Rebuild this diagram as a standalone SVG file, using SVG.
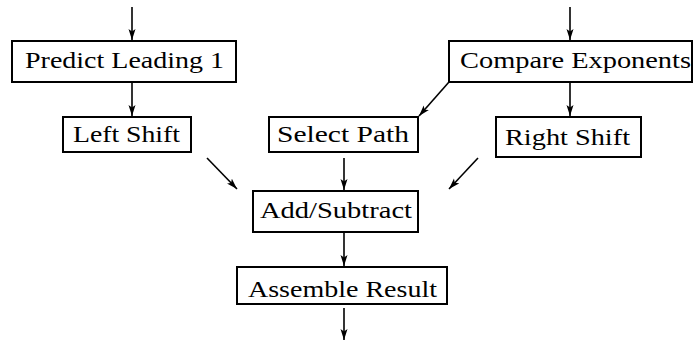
<svg xmlns="http://www.w3.org/2000/svg" width="693" height="340" viewBox="0 0 693 340">
<style>
.box{fill:#fff;stroke:#000;stroke-width:2}
.lbl{font-family:"Liberation Serif","Times New Roman",serif;font-size:24px;fill:#000}
.edge{stroke:#000;stroke-width:1.6;fill:none;marker-end:url(#ah)}
</style>
<defs>
<marker id="ah" markerUnits="userSpaceOnUse" markerWidth="12" markerHeight="8" refX="11" refY="4" orient="auto">
<path d="M0,0.5 L11,4 L0,7.5 L2.5,4 Z" fill="#000"/>
</marker>
</defs>
<g id="connectors">
<line class="edge" x1="132" y1="7" x2="132" y2="40"/>
<line class="edge" x1="570" y1="7" x2="570" y2="40"/>
<line class="edge" x1="132" y1="82" x2="132" y2="116"/>
<line class="edge" x1="570" y1="82" x2="570" y2="116"/>
<line class="edge" x1="449" y1="82" x2="419" y2="116"/>
<line class="edge" x1="344" y1="158" x2="344" y2="190"/>
<line class="edge" x1="207" y1="158" x2="237" y2="189"/>
<line class="edge" x1="478" y1="158" x2="449" y2="189"/>
<line class="edge" x1="344" y1="232" x2="344" y2="266"/>
<line class="edge" x1="344" y1="308" x2="344" y2="340"/>
</g>
<g id="predict">
<rect class="box" x="12" y="41" width="224" height="41"/>
<text class="lbl" x="25" y="68" textLength="199" lengthAdjust="spacingAndGlyphs">Predict Leading 1</text>
</g>
<g id="compare">
<rect class="box" x="449" y="41" width="243" height="41"/>
<text class="lbl" x="460" y="68" textLength="231" lengthAdjust="spacingAndGlyphs">Compare Exponents</text>
</g>
<g id="leftshift">
<rect class="box" x="63" y="117" width="128" height="35"/>
<text class="lbl" x="73" y="142" textLength="107" lengthAdjust="spacingAndGlyphs">Left Shift</text>
</g>
<g id="selectpath">
<rect class="box" x="269" y="117" width="149" height="35"/>
<text class="lbl" x="277" y="142" textLength="132" lengthAdjust="spacingAndGlyphs">Select Path</text>
</g>
<g id="rightshift">
<rect class="box" x="496" y="117" width="145" height="40"/>
<text class="lbl" x="505" y="145" textLength="125" lengthAdjust="spacingAndGlyphs">Right Shift</text>
</g>
<g id="addsub">
<rect class="box" x="253" y="191" width="165" height="41"/>
<text class="lbl" x="260" y="218" textLength="152" lengthAdjust="spacingAndGlyphs">Add/Subtract</text>
</g>
<g id="assemble">
<rect class="box" x="237" y="267" width="210" height="37"/>
<text class="lbl" x="248" y="297" textLength="189" lengthAdjust="spacingAndGlyphs">Assemble Result</text>
</g>
</svg>
